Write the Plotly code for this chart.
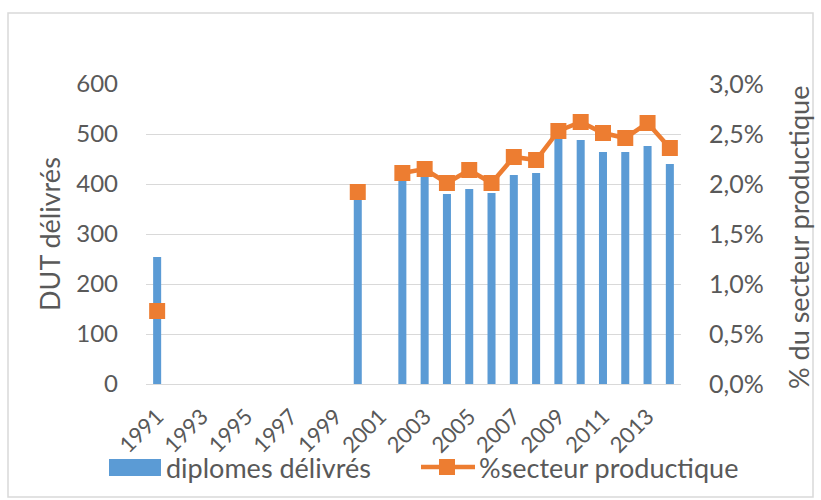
import plotly.graph_objects as go

annees = [str(a) for a in range(1991, 2015)]
# diplomes délivrés (None = pas de donnée)
diplomes = [254, None, None, None, None, None, None, None, None, 382, None,
            410, 418, 380, 390, 382, 418, 422, 492, 488, 464, 464, 476, 440]
# part du secteur productique
pct_secteur = [0.0073, None, None, None, None, None, None, None, None, 0.0192, None,
               0.0211, 0.0215, 0.0201, 0.0214, 0.0201, 0.0227, 0.0224, 0.0253, 0.0262,
               0.0251, 0.0246, 0.0261, 0.0236]
ticks_x = annees[::2]

bleu = '#5B9BD5'
orange = '#ED7D31'
gris = '#595959'
police = 'Lato'

# zone de tracé en pixels
L, R, T, B = 146, 681, 84, 384
W, H = 821, 500
pw, ph = R - L, B - T


def px_x(x):
    return (x - L) / pw


def px_y(y):
    return (B - y) / ph


fig = go.Figure()
fig.add_trace(go.Bar(x=annees, y=diplomes, name='diplomes délivrés',
                     marker=dict(color=bleu, line=dict(width=0))))
fig.add_trace(go.Scatter(x=annees, y=pct_secteur, name='%secteur productique',
                         yaxis='y2', mode='lines+markers', connectgaps=False,
                         line=dict(color=orange, width=4.5),
                         marker=dict(symbol='square', size=16, color=orange)))

fig.update_layout(
    width=W, height=H,
    margin=dict(l=L, r=W - R, t=T, b=H - B),
    paper_bgcolor='white', plot_bgcolor='white',
    font=dict(family=police, size=24, color=gris),
    separators=', ',
    bargap=0.64,
    showlegend=False,
    xaxis=dict(type='category', range=[-0.5, 23.5], tickvals=ticks_x, ticktext=ticks_x,
               tickangle=-45, showgrid=False, showline=True, linecolor='#d9d9d9',
               linewidth=1, ticks='', tickfont=dict(size=22), ticklabelstandoff=10,
               automargin=False),
    yaxis=dict(range=[0, 600], dtick=100, showgrid=True, gridcolor='#d9d9d9',
               zeroline=False, ticks='', ticklabelstandoff=27, automargin=False),
    yaxis2=dict(range=[0, 0.03], dtick=0.005, tickformat='.1%', overlaying='y',
                side='right', showgrid=False, zeroline=False, ticks='',
                ticklabelstandoff=27, automargin=False, tickfont=dict(size=25)),
)

# titres des axes
fig.add_annotation(text='DUT délivrés', xref='paper', yref='paper',
                   x=px_x(49), y=px_y(234), xanchor='center', yanchor='middle',
                   textangle=-90, showarrow=False, font=dict(size=27, color=gris))
fig.add_annotation(text='% du secteur productique', xref='paper', yref='paper',
                   x=px_x(798), y=px_y(238), xanchor='center', yanchor='middle',
                   textangle=-90, showarrow=False, font=dict(size=27, color=gris))

# légende
fig.add_shape(type='rect', xref='paper', yref='paper',
              x0=px_x(109), x1=px_x(161), y0=px_y(476), y1=px_y(459),
              fillcolor=bleu, line=dict(width=0))
fig.add_annotation(text='diplomes délivrés', xref='paper', yref='paper',
                   x=px_x(164), y=px_y(467), xanchor='left', yanchor='middle',
                   showarrow=False, font=dict(size=27, color=gris))
fig.add_shape(type='line', xref='paper', yref='paper',
              x0=px_x(421), x1=px_x(475), y0=px_y(467), y1=px_y(467),
              line=dict(color=orange, width=4.5))
fig.add_shape(type='rect', xref='paper', yref='paper',
              x0=px_x(439), x1=px_x(455), y0=px_y(475), y1=px_y(459),
              fillcolor=orange, line=dict(width=0))
fig.add_annotation(text='%secteur productique', xref='paper', yref='paper',
                   x=px_x(477), y=px_y(467), xanchor='left', yanchor='middle',
                   showarrow=False, font=dict(size=27, color=gris))

# cadre de la zone de graphique
fig.add_shape(type='rect', xref='paper', yref='paper',
              x0=px_x(8), x1=px_x(813), y0=px_y(497), y1=px_y(13),
              line=dict(color='#d9d9d9', width=1.5), layer='below')

fig.write_html("out.html", config={'displayModeBar': False},
               post_script="document.body.style.margin = '0';")
